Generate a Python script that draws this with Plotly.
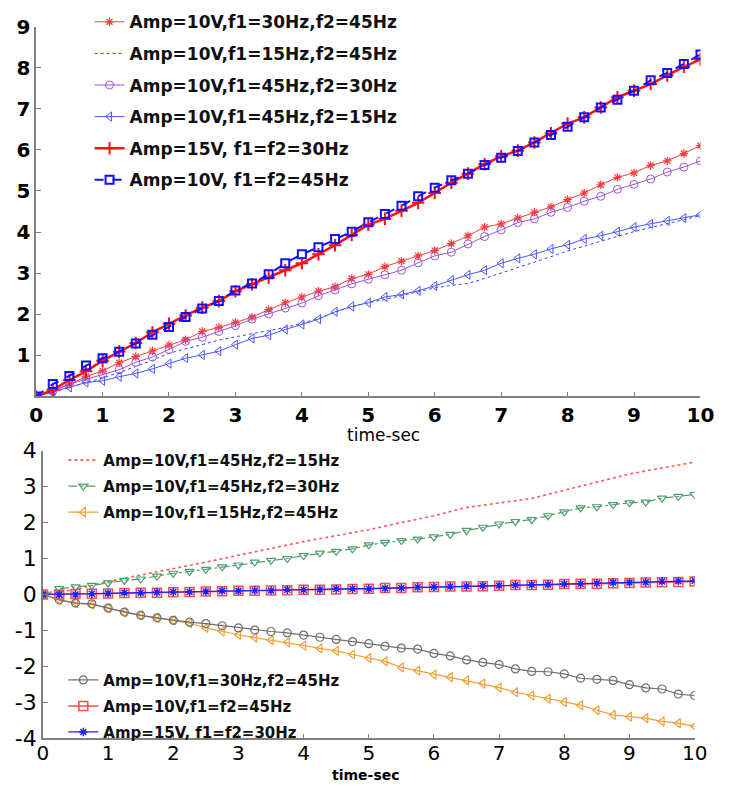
import plotly.graph_objects as go

# Sample times (s)
t = [i * 0.25 for i in range(41)]
t_half = [i * 0.5 for i in range(21)]

# ---- Upper panel series ----
amp10_f30_f45 = [0, 0.13, 0.30, 0.48, 0.62, 0.82, 0.97, 1.11, 1.25, 1.38, 1.58, 1.68, 1.80, 1.93,
                 2.11, 2.28, 2.42, 2.56, 2.67, 2.87, 2.97, 3.16, 3.29, 3.42, 3.55, 3.72, 3.91, 4.12,
                 4.20, 4.34, 4.48, 4.61, 4.79, 4.95, 5.15, 5.33, 5.44, 5.62, 5.73, 5.91, 6.10]
amp10_f15_f45 = [0, 0.10, 0.22, 0.33, 0.45, 0.58, 0.73, 0.88, 1.05, 1.16, 1.26, 1.37, 1.45, 1.52,
                 1.60, 1.68, 1.78, 1.90, 2.05, 2.18, 2.28, 2.36, 2.45, 2.55, 2.64, 2.70, 2.75, 2.87,
                 3.00, 3.13, 3.26, 3.40, 3.54, 3.66, 3.77, 3.89, 4.01, 4.11, 4.20, 4.30, 4.40]
amp10_f45_f30 = [0, 0.12, 0.30, 0.42, 0.54, 0.65, 0.83, 0.96, 1.14, 1.34, 1.44, 1.58, 1.72, 1.88,
                 2.01, 2.15, 2.27, 2.45, 2.59, 2.74, 2.85, 2.96, 3.07, 3.25, 3.42, 3.51, 3.71, 3.89,
                 4.05, 4.23, 4.32, 4.48, 4.60, 4.75, 4.87, 5.04, 5.16, 5.29, 5.46, 5.58, 5.73]
amp10_f45_f15 = [0, 0.12, 0.22, 0.34, 0.38, 0.48, 0.56, 0.67, 0.80, 0.93, 1.01, 1.10, 1.26, 1.41,
                 1.49, 1.63, 1.75, 1.88, 2.06, 2.19, 2.28, 2.42, 2.48, 2.57, 2.69, 2.83, 2.96, 3.07,
                 3.24, 3.36, 3.46, 3.59, 3.69, 3.83, 3.91, 4.01, 4.12, 4.20, 4.27, 4.34, 4.42]
amp15_f30 = [0, 0.16, 0.40, 0.61, 0.87, 1.09, 1.30, 1.56, 1.77, 1.97, 2.16, 2.32, 2.56, 2.73,
             2.89, 3.07, 3.24, 3.46, 3.68, 3.93, 4.18, 4.32, 4.52, 4.71, 4.95, 5.20, 5.42, 5.65,
             5.84, 5.98, 6.18, 6.40, 6.64, 6.79, 7.03, 7.28, 7.44, 7.60, 7.81, 8.02, 8.20]
amp10_f45 = [0, 0.30, 0.50, 0.75, 0.93, 1.09, 1.29, 1.50, 1.69, 1.93, 2.14, 2.32, 2.58, 2.75,
             2.97, 3.24, 3.46, 3.63, 3.83, 4.01, 4.24, 4.44, 4.64, 4.87, 5.08, 5.26, 5.42, 5.63,
             5.81, 5.97, 6.18, 6.36, 6.56, 6.79, 7.03, 7.22, 7.44, 7.69, 7.87, 8.09, 8.32]

# ---- Lower panel series ----
low_f45_f15 = [0, 0.14, 0.36, 0.55, 0.72, 0.90, 1.08, 1.28, 1.47, 1.64, 1.80, 2.00, 2.19, 2.42,
               2.55, 2.67, 2.90, 3.13, 3.35, 3.52, 3.68]
low_f45_f30 = [0, 0.16, 0.21, 0.25, 0.32, 0.39, 0.43, 0.51, 0.59, 0.64, 0.70, 0.77, 0.82, 0.90,
               0.95, 1.00, 1.08, 1.15, 1.20, 1.27, 1.38, 1.45, 1.50, 1.54, 1.60, 1.67, 1.78, 1.87,
               1.96, 2.03, 2.08, 2.19, 2.30, 2.41, 2.44, 2.50, 2.55, 2.57, 2.68, 2.73, 2.78]
low_f15_f45 = [0, -0.15, -0.24, -0.28, -0.38, -0.50, -0.58, -0.65, -0.72, -0.80, -0.93, -1.03,
               -1.12, -1.20, -1.27, -1.33, -1.42, -1.50, -1.57, -1.67, -1.77, -1.86, -2.03, -2.12,
               -2.23, -2.30, -2.39, -2.48, -2.59, -2.72, -2.81, -2.90, -2.99, -3.08, -3.22, -3.35,
               -3.40, -3.44, -3.53, -3.58, -3.67]
low_f30_f45 = [0, -0.15, -0.24, -0.26, -0.38, -0.49, -0.58, -0.65, -0.72, -0.77, -0.81, -0.87,
               -0.93, -0.99, -1.03, -1.07, -1.13, -1.19, -1.25, -1.31, -1.37, -1.44, -1.49, -1.52,
               -1.64, -1.71, -1.82, -1.89, -1.95, -2.07, -2.14, -2.15, -2.21, -2.33, -2.36, -2.39,
               -2.51, -2.60, -2.63, -2.77, -2.81]
low_f45_eq = [0, 0.00, 0.01, 0.02, 0.03, 0.04, 0.05, 0.05, 0.06, 0.07, 0.08, 0.09, 0.10, 0.10,
              0.11, 0.12, 0.13, 0.13, 0.14, 0.15, 0.16, 0.18, 0.18, 0.20, 0.21, 0.22, 0.22, 0.23,
              0.24, 0.26, 0.26, 0.27, 0.29, 0.30, 0.30, 0.31, 0.32, 0.33, 0.34, 0.35, 0.36]
low_amp15 = [0, 0.00, 0.00, 0.02, 0.03, 0.05, 0.05, 0.06, 0.07, 0.07, 0.08, 0.10, 0.10, 0.11,
             0.11, 0.13, 0.13, 0.14, 0.15, 0.16, 0.16, 0.17, 0.18, 0.20, 0.21, 0.22, 0.23, 0.24,
             0.25, 0.26, 0.27, 0.28, 0.29, 0.30, 0.31, 0.33, 0.33, 0.34, 0.36, 0.37, 0.38]

x_ticks = list(range(0, 11))
top_y_ticks = list(range(1, 10))
bot_y_ticks = list(range(-4, 5))
bot_y_text = [str(v) for v in bot_y_ticks]

W, H = 730, 790
FONT = "DejaVu Sans"


def px_x(p):
    return p / W


def px_y(p):
    return 1 - p / H


fig = go.Figure()


def add(x, y, name, color, width, dash, symbol=None, msize=8, mwidth=1.2,
        xa="x", ya="y", legend="legend", group=None):
    mode = "lines+markers" if symbol else "lines"
    marker = dict(symbol=symbol, size=msize, color=color,
                  line=dict(color=color, width=mwidth)) if symbol else None
    fig.add_trace(go.Scatter(
        x=x, y=y, name=name, mode=mode, xaxis=xa, yaxis=ya, legend=legend,
        legendgroup=group or name,
        line=dict(color=color, width=width, dash=dash),
        marker=marker,
    ))


# Upper panel
add(t, amp10_f30_f45, "Amp=10V,f1=30Hz,f2=45Hz", "#ff3a3a", 1.0, "solid", "asterisk-open", 7, 1.2)
add(t, amp10_f15_f45, "Amp=10V,f1=15Hz,f2=45Hz", "#4040ff", 1.0, "dot")
add(t, amp10_f45_f30, "Amp=10V,f1=45Hz,f2=30Hz", "#9d55d6", 1.0, "solid", "circle-open", 8, 1.0)
add(t, amp10_f45_f15, "Amp=10V,f1=45Hz,f2=15Hz", "#4a55ff", 1.0, "solid", "triangle-left-open", 8, 1.0)
add(t, amp15_f30, "Amp=15V, f1=f2=30Hz", "#ff1010", 2.5, "solid", "cross-thin-open", 9, 2.0)
add(t, amp10_f45, "Amp=10V, f1=f2=45Hz", "#1010ff", 2.0, "dash", "square-open", 8, 2.0)

# Lower panel
add(t_half, low_f45_f15, "Amp=10V,f1=45Hz,f2=15Hz", "#ff5a5a", 1.6, "dot",
    xa="x2", ya="y2", legend="legend2", group="b1")
add(t, low_f45_f30, "Amp=10V,f1=45Hz,f2=30Hz", "#4f9e6d", 1.2, "dashdot", "triangle-down-open", 8, 1.2,
    xa="x2", ya="y2", legend="legend2", group="b2")
add(t, low_f15_f45, "Amp=10v,f1=15Hz,f2=45Hz", "#f0a035", 1.2, "solid", "triangle-left-open", 8, 1.2,
    xa="x2", ya="y2", legend="legend2", group="b3")
add(t, low_f30_f45, "Amp=10V,f1=30Hz,f2=45Hz", "#707070", 1.2, "solid", "circle-open", 8, 1.2,
    xa="x2", ya="y2", legend="legend3", group="b4")
add(t, low_f45_eq, "Amp=10V,f1=f2=45Hz", "#ff4c4c", 1.5, "solid", "square-open", 9, 1.5,
    xa="x2", ya="y2", legend="legend3", group="b5")
add(t, low_amp15, "Amp=15V, f1=f2=30Hz", "#2020ff", 1.2, "solid", "asterisk-open", 7, 1.5,
    xa="x2", ya="y2", legend="legend3", group="b6")

axis_common = dict(showgrid=False, zeroline=False, showline=True, linecolor="#808080",
                   linewidth=1.5, ticks="inside", ticklen=5, tickcolor="#808080",
                   tickwidth=1.2, fixedrange=True)

fig.update_layout(
    width=W, height=H,
    margin=dict(l=0, r=0, t=0, b=0),
    paper_bgcolor="white", plot_bgcolor="white",
    xaxis=dict(domain=[px_x(30), px_x(714)], range=[0, 10], anchor="y",
               tickvals=x_ticks, tickfont=dict(family=FONT, size=20, color="black", weight="bold"),
               **axis_common),
    yaxis=dict(domain=[px_y(397), px_y(15)], range=[0, 9], anchor="x",
               tickvals=top_y_ticks, tickfont=dict(family=FONT, size=20, color="black", weight="bold"),
               **axis_common),
    xaxis2=dict(domain=[px_x(37), px_x(708)], range=[0, 10], anchor="y2",
                tickvals=x_ticks, tickfont=dict(family=FONT, size=20, color="black"),
                ticklabelstandoff=-4,
                **axis_common),
    yaxis2=dict(domain=[px_y(750), px_y(453)], range=[-4, 4], anchor="x2",
                tickvals=bot_y_ticks, ticktext=bot_y_text,
                tickfont=dict(family=FONT, size=22, color="black"),
                **axis_common),
    legend=dict(x=px_x(85), y=px_y(-8), xanchor="left", yanchor="top",
                bgcolor="rgba(0,0,0,0)", traceorder="grouped", tracegroupgap=6.5,
                font=dict(family=FONT, size=17, color="#111111", weight="bold")),
    legend2=dict(x=px_x(58), y=px_y(446), xanchor="left", yanchor="top",
                 bgcolor="rgba(0,0,0,0)", traceorder="grouped", tracegroupgap=3.5,
                 font=dict(family=FONT, size=15, color="#111111", weight="bold")),
    legend3=dict(x=px_x(58), y=px_y(673), xanchor="left", yanchor="top",
                 bgcolor="rgba(0,0,0,0)", traceorder="grouped", tracegroupgap=3.5,
                 font=dict(family=FONT, size=15, color="#111111", weight="bold")),
    annotations=[
        dict(text="time-sec", xref="paper", yref="paper", x=px_x(388), y=px_y(437),
             xanchor="center", yanchor="middle", showarrow=False,
             font=dict(family=FONT, size=17, color="black")),
        dict(text="time-sec", xref="paper", yref="paper", x=px_x(370), y=px_y(788),
             xanchor="center", yanchor="middle", showarrow=False, borderpad=0,
             font=dict(family=FONT, size=14, color="black", weight="bold")),
    ],
)

fig.write_html("out.html")
